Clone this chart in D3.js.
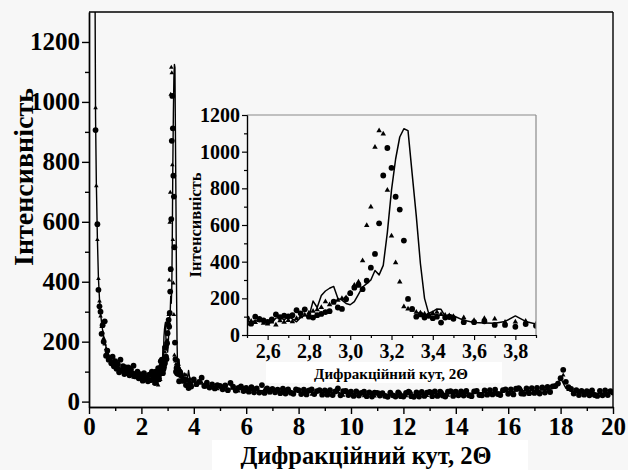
<!DOCTYPE html>
<html>
<head>
<meta charset="utf-8">
<script src="https://cdnjs.cloudflare.com/ajax/libs/d3/7.8.5/d3.min.js"></script>
<style>
body { margin: 0; background: #f7f7f7; }
svg { display: block; }
</style>
</head>
<body>
<svg id="chart" width="628" height="470"></svg>
<script>
// low-angle part of the pattern (before the inset window)
var lowX = [0.18,0.22,0.25,0.28,0.32,0.36,0.40,0.44,0.48,0.52,
	0.56,0.60,0.65,0.70,0.75,0.80,0.85,0.90,0.95,1.00,
	1.05,1.10,1.15,1.20,1.25,1.30,1.35,1.40,1.45,1.50,
	1.55,1.60,1.65,1.70,1.75,1.80,1.85,1.90,1.95,2.00,
	2.05,2.10,2.15,2.20,2.25,2.30,2.35,2.40,2.45];
var lowCircles = [null,null,906,null,592,373,318,300,226,255,
	200,268,153,170,140,143,128,150,118,135,
	110,125,98,140,105,118,92,114,100,114,
	88,108,95,120,85,93,100,78,92,88,
	70,95,75,82,68,90,72,100,80];
var lowTriangles = [null,1400,980,720,540,410,335,285,250,232,
	212,192,176,160,150,140,133,127,121,116,
	119,106,111,101,98,104,93,96,90,97,
	85,89,93,81,87,79,85,81,76,83,
	73,79,71,77,69,75,67,73,71];
var lowLine = [3000,1600,950,730,545,412,342,296,263,238,
	217,201,183,167,157,148,141,135,130,125,
	121,117,115,111,108,106,103,101,98,97,
	95,93,92,90,89,87,86,85,84,83,
	82,81,80,79,79,78,77,77,76];

// window shown in the inset
var insetX = [2.50,2.52,2.54,2.56,2.58,2.60,2.62,2.64,2.66,2.68,
	2.70,2.72,2.74,2.76,2.78,2.80,2.82,2.84,2.86,2.88,
	2.90,2.92,2.94,2.96,2.98,3.00,3.02,3.04,3.06,3.08,
	3.10,3.12,3.14,3.16,3.18,3.20,3.22,3.24,3.26,3.28,
	3.30,3.32,3.34,3.36,3.38,3.40,3.42,3.44,3.46,3.48,
	3.50,3.55,3.60,3.65,3.70,3.75,3.80,3.85,3.90];
var insetCircles = [90,62,100,88,80,72,85,112,98,105,
	102,108,135,118,140,100,95,108,115,125,
	130,182,150,142,195,228,258,273,250,296,
	367,442,609,870,1020,912,754,684,515,197,
	142,100,112,95,105,92,100,68,95,98,
	88,70,70,75,55,55,45,60,50];
var insetTriangles = [60,75,68,80,65,60,72,55,78,70,
	80,73,90,100,110,120,130,138,150,182,
	165,175,190,200,204,230,272,290,405,598,
	698,1025,1115,1097,790,540,395,290,155,142,
	135,125,120,115,110,118,124,112,108,105,
	102,95,80,90,88,70,72,76,60];
var insetLine = [75,68,80,72,76,66,70,92,98,82,
	100,88,72,95,108,100,185,150,215,240,
	255,265,200,190,172,165,182,222,262,280,
	300,352,328,380,560,790,960,1080,1125,1115,
	880,650,390,200,118,128,142,140,102,112,
	105,80,68,66,64,74,104,74,60];

// wide-angle tail, circles every 0.1 from 4.0
var tailCircleStart = 4.0, tailCircleStep = 0.1;
var tailCircles = [74,58,66,80,52,63,47,57,44,55,
	52,41,54,38,62,50,37,46,51,35,
	46,33,48,31,44,30,55,29,44,33,
	42,31,40,28,43,27,41,30,26,41,
	38,25,40,24,37,41,25,35,38,23,
	37,23,38,22,34,44,21,35,36,22,
	33,19,34,20,29,33,18,31,17,30,
	29,20,28,19,16,30,21,17,31,18,
	17,29,33,18,16,31,17,32,19,30,
	32,18,34,19,33,20,17,33,35,19,
	33,21,34,20,36,21,18,34,36,22,
	21,37,23,38,24,40,25,22,38,41,
	26,41,24,43,45,27,26,44,28,45,
	29,46,27,47,30,49,32,51,52,60,
	78,106,66,48,42,27,38,22,36,23,
	35,21,37,22,19,36,21,37,22,35,
	30];
// line every 0.2 from 4.0, triangles every 0.2 from 4.1
var tailLineStart = 4.0, tailLineStep = 0.2;
var tailLine = [66,60,57,52,50, 46,45,42,42,40, 39,38,38,36,37, 35,35,34,33,34,
	32,31,32,30,30, 30,29,30,28,28, 27,26,26,25,25, 24,25,24,23,24,
	24,25,24,25,25, 26,26,25,27,27, 28,27,28,28,29, 30,30,31,32,32,
	34,34,36,36,37, 38,38,40,42,46, 78,45,34,30,29, 28,28,27,28,28,
	28];
var tailTriStart = 4.1, tailTriStep = 0.2;
var tailTriangles = [56,64,48,55,42, 50,37,46,35,44, 32,42,30,41,29, 39,28,38,26,37,
	25,36,24,35,22, 34,22,33,21,32, 20,31,19,30,18, 29,18,30,19,28,
	19,31,18,30,20, 32,19,31,21,33, 22,32,23,34,24, 33,25,35,26,38,
	27,39,42,30,41, 32,43,34,48,62, 88,40,26,34,23, 33,22,32,24,33];

var mainXTicks = [0,2,4,6,8,10,12,14,16,18,20];
var mainYTicks = [0,200,400,600,800,1000,1200];
var insetXTicks = [2.6,2.8,3.0,3.2,3.4,3.6,3.8];
var insetYTicks = [0,200,400,600,800,1000,1200];

var xTitle = "Дифракційний кут, 2Θ";
var yTitle = "Інтенсивність";

var FONT = "'Liberation Serif', 'Times New Roman', serif";

var pairs = function(xs, ys) {
	return xs.map(function(x, i) { return {x: x, y: ys[i]}; })
		.filter(function(d) { return d.y !== null && d.y !== undefined; });
};
var stepped = function(start, step, ys) {
	return ys.map(function(y, i) { return {x: +(start + i * step).toFixed(2), y: y}; });
};

var circlesAll = pairs(lowX, lowCircles).concat(pairs(insetX, insetCircles), stepped(tailCircleStart, tailCircleStep, tailCircles));
var trianglesAll = pairs(lowX, lowTriangles).concat(pairs(insetX, insetTriangles), stepped(tailTriStart, tailTriStep, tailTriangles));
var lineAll = pairs(lowX, lowLine).concat(pairs(insetX, insetLine), stepped(tailLineStart, tailLineStep, tailLine));

var svg = d3.select("#chart");

// white patches of the scanned page
svg.append("rect").attr("x", 212).attr("y", 440).attr("width", 316).attr("height", 30).attr("fill", "#fff");
svg.append("rect").attr("x", 266).attr("y", 362).attr("width", 236).attr("height", 21).attr("fill", "#fff");

var decimalComma = d3.formatLocale({decimal: ",", thousands: " ", grouping: [3], currency: ["", ""]}).format(".1f");

var drawPanel = function(opts) {
	var x = d3.scaleLinear().domain(opts.xDomain).range([opts.left, opts.right]);
	var y = d3.scaleLinear().domain(opts.yDomain).range([opts.bottom, opts.top]);
	var g = svg.append("g");

	g.append("clipPath").attr("id", opts.id + "-clip")
		.append("rect").attr("x", opts.left).attr("y", opts.top)
		.attr("width", opts.right - opts.left).attr("height", opts.bottom - opts.top);

	var plot = g.append("g").attr("clip-path", "url(#" + opts.id + "-clip)");
	var line = d3.line().x(function(d) { return x(d.x); }).y(function(d) { return y(d.y); });

	plot.append("path").datum(opts.line)
		.attr("d", line).attr("fill", "none").attr("stroke", "#000")
		.attr("stroke-width", opts.lineWidth).attr("stroke-linejoin", "round");

	plot.selectAll("circle").data(opts.circles).enter().append("circle")
		.attr("cx", function(d) { return x(d.x); })
		.attr("cy", function(d) { return y(d.y); })
		.attr("r", opts.r).attr("fill", "#000");

	var tri = d3.symbol().type(d3.symbolTriangle).size(opts.triSize);
	plot.selectAll("path.tri").data(opts.triangles).enter().append("path")
		.attr("class", "tri").attr("d", tri)
		.attr("transform", function(d) { return "translate(" + x(d.x) + "," + y(d.y) + ")"; })
		.attr("fill", "#000");

	// frame
	g.append("line").attr("x1", opts.left).attr("x2", opts.right).attr("y1", opts.top).attr("y2", opts.top)
		.attr("stroke", opts.frameColor).attr("stroke-width", opts.axisWidth);
	g.append("line").attr("x1", opts.right).attr("x2", opts.right).attr("y1", opts.top).attr("y2", opts.bottom)
		.attr("stroke", opts.frameColor).attr("stroke-width", opts.axisWidth);

	var xMinor = g.append("g").attr("transform", "translate(0," + opts.bottom + ")")
		.call(d3.axisBottom(x).tickValues(opts.xMinor).tickSize(opts.minorTick).tickSizeOuter(0).tickFormat(""));
	var yMinor = g.append("g").attr("transform", "translate(" + opts.left + ",0)")
		.call(d3.axisLeft(y).tickValues(opts.yMinor).tickSize(opts.minorTick).tickSizeOuter(0).tickFormat(""));
	var xAxis = g.append("g").attr("transform", "translate(0," + opts.bottom + ")")
		.call(d3.axisBottom(x).tickValues(opts.xTicks).tickSize(opts.majorTick).tickSizeOuter(0)
			.tickPadding(opts.xPad).tickFormat(opts.xFormat));
	var yAxis = g.append("g").attr("transform", "translate(" + opts.left + ",0)")
		.call(d3.axisLeft(y).tickValues(opts.yTicks).tickSize(opts.majorTick).tickSizeOuter(0)
			.tickPadding(opts.yPad).tickFormat(d3.format("d")));

	[xMinor, yMinor, xAxis, yAxis].forEach(function(a) {
		a.attr("font-family", FONT).attr("font-size", opts.tickFont).attr("font-weight", "bold");
		a.selectAll("path, line").attr("stroke", "#000").attr("stroke-width", opts.axisWidth);
		a.selectAll("text").attr("fill", "#000");
	});

	g.append("text").attr("x", opts.xTitleX).attr("y", opts.xTitleY)
		.attr("font-family", FONT).attr("font-weight", "bold")
		.attr("text-anchor", "middle").attr("font-size", opts.xTitleFont).text(xTitle);
	g.append("text").attr("transform", "translate(" + opts.yTitleX + "," + opts.yTitleY + ") rotate(-90)")
		.attr("font-family", FONT).attr("font-weight", "bold")
		.attr("text-anchor", "middle").attr("font-size", opts.yTitleFont).text(yTitle);
};

drawPanel({
	id: "main", left: 89, right: 613, top: 12, bottom: 407,
	xDomain: [0, 20], yDomain: [-18, 1300],
	xTicks: mainXTicks, yTicks: mainYTicks,
	xMinor: d3.range(1, 20, 2), yMinor: d3.range(100, 1300, 200),
	xFormat: d3.format("d"),
	majorTick: 7, minorTick: 4, xPad: 3, yPad: 2, axisWidth: 1.4,
	tickFont: "25px", xTitleFont: "24.5px", yTitleFont: "28px",
	xTitleX: 366, xTitleY: 464, yTitleX: 33, yTitleY: 177,
	circles: circlesAll, triangles: trianglesAll, line: lineAll,
	r: 2.9, triSize: 9, lineWidth: 1.4, frameColor: "#000"
});

var inWin = function(d) { return d.x >= 2.5 && d.x <= 3.9; };
drawPanel({
	id: "inset", left: 247, right: 536, top: 115, bottom: 335,
	xDomain: [2.5, 3.9], yDomain: [0, 1200],
	xTicks: insetXTicks, yTicks: insetYTicks,
	xMinor: [2.5,2.7,2.9,3.1,3.3,3.5,3.7,3.9], yMinor: d3.range(100, 1200, 200),
	xFormat: decimalComma,
	majorTick: 5, minorTick: 3, xPad: 4, yPad: 2, axisWidth: 1.2,
	tickFont: "20px", xTitleFont: "15px", yTitleFont: "16.5px",
	xTitleX: 391, xTitleY: 379, yTitleX: 201, yTitleY: 225,
	circles: circlesAll.filter(inWin), triangles: trianglesAll.filter(inWin), line: lineAll.filter(inWin),
	r: 2.9, triSize: 13, lineWidth: 1.5, frameColor: "#8a8a8a"
});
</script>
</body>
</html>
